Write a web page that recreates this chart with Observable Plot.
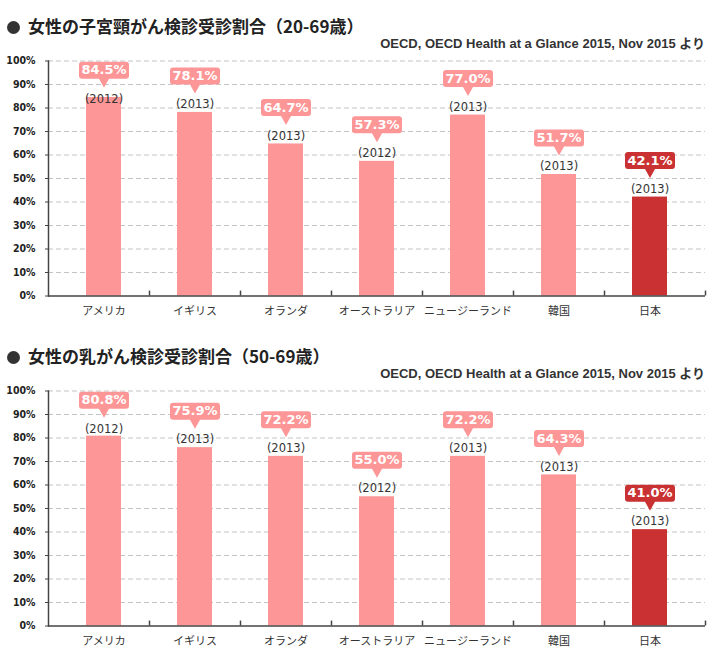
<!DOCTYPE html>
<html><head><meta charset="utf-8">
<script src="https://cdn.jsdelivr.net/npm/d3@7"></script>
<script src="https://cdn.jsdelivr.net/npm/@observablehq/plot@0.6"></script>
<style>
body{margin:0;background:#fff;font-family:"Noto Sans CJK JP",sans-serif;}
.block{position:relative;width:720px;height:330px;}
.title{position:absolute;left:7px;top:13px;font-size:17px;font-weight:bold;color:#222;line-height:26px;white-space:nowrap;}
.dot{display:inline-block;width:13px;height:13px;border-radius:50%;background:#333;margin-right:8px;vertical-align:-1px;}
.source{position:absolute;right:15px;top:34px;font-family:"Liberation Sans",Arial,sans-serif;font-size:13px;font-weight:bold;color:#333;line-height:17px;white-space:nowrap;}
.source .jp{font-family:"Noto Sans CJK JP",sans-serif;}
.chart{position:absolute;left:0;top:50px;}
</style></head>
<body>
<div id="root"></div>
<script>
const countries = ["アメリカ","イギリス","オランダ","オーストラリア","ニュージーランド","韓国","日本"];
const cervicalRates = [84.5, 78.1, 64.7, 57.3, 77.0, 51.7, 42.1];
const cervicalYears = [2012, 2013, 2013, 2012, 2013, 2013, 2013];
const breastRates = [80.8, 75.9, 72.2, 55.0, 72.2, 64.3, 41.0];
const breastYears = [2012, 2013, 2013, 2012, 2013, 2013, 2013];
const yTicks = [0, 10, 20, 30, 40, 50, 60, 70, 80, 90, 100];
const titles = ["女性の子宮頸がん検診受診割合（20-69歳）", "女性の乳がん検診受診割合（50-69歳）"];
const sourceText = "OECD, OECD Health at a Glance 2015, Nov 2015 ";
const sourceSuffix = "より";
const highlight = "日本";

const PINK = "#fd9697";
const RED = "#c93133";

const W = 720, H = 280, ML = 48, MR = 15, MT = 10.5, MB = 34.5, INSET = 10;
const bw = (W - ML - MR - 2 * INSET) / countries.length;

const callout = {
  draw(ctx) {
    const w = 25, top = -45, bot = -28, r = 3, tip = -19, hw = 5;
    ctx.moveTo(-w + r, top);
    ctx.lineTo(w - r, top);
    ctx.arcTo(w, top, w, top + r, r);
    ctx.lineTo(w, bot - r);
    ctx.arcTo(w, bot, w - r, bot, r);
    ctx.lineTo(hw, bot);
    ctx.lineTo(0, tip);
    ctx.lineTo(-hw, bot);
    ctx.lineTo(-w + r, bot);
    ctx.arcTo(-w, bot, -w, bot - r, r);
    ctx.lineTo(-w, top + r);
    ctx.arcTo(-w, top, -w + r, top, r);
    ctx.closePath();
  }
};

function makeChart(rates, years) {
  const data = countries.map((c, i) => ({
    country: c, value: rates[i], year: years[i], anchor: Math.min(rates[i], 80.5)
  }));
  const colorOf = d => d.country === highlight ? RED : PINK;
  return Plot.plot({
    width: W, height: H,
    marginTop: MT, marginBottom: MB, marginLeft: ML, marginRight: MR,
    x: {domain: countries, padding: 0, insetLeft: INSET, insetRight: INSET},
    y: {domain: [0, 100]},
    marks: [
      Plot.ruleY(yTicks.filter(t => t > 0), {stroke: "#c4c4c4", strokeDasharray: "5,3", strokeWidth: 1}),
      Plot.barY(data, {x: "country", y: "value", fill: colorOf, insetLeft: 28, insetRight: 28}),
      Plot.ruleY([0], {stroke: "#444", strokeWidth: 1.5}),
      Plot.frame({anchor: "left", stroke: "#444", strokeWidth: 1.5}),
      Plot.ruleX(countries.slice(0, -1), {x: d => d, dx: bw / 2, y1: 0, y2: 2.1, stroke: "#444", strokeWidth: 1.5}),
      Plot.ruleX(countries.slice(-1), {x: d => d, dx: bw / 2 + INSET, y1: 0, y2: 2.1, stroke: "#444", strokeWidth: 1.5}),
      Plot.axisY({ticks: yTicks, tickFormat: d => d + "%", tickSize: 3, tickPadding: 10, stroke: "#444",
        fontSize: 10.5, fontWeight: "bold", fontFamily: "DejaVu Sans Condensed", fill: "#222", label: null}),
      Plot.axisX({tickSize: 0, tickPadding: 11, fontSize: 11, fontFamily: "Noto Sans CJK JP", fill: "#333", label: null}),
      Plot.dot(data, {x: "country", y: "anchor", symbol: callout, r: 5, fill: colorOf, stroke: "none"}),
      Plot.text(data, {x: "country", y: "anchor", text: d => d.value.toFixed(1) + "%", dy: -36.5,
        fill: "white", fontWeight: "bold", fontSize: 13, fontFamily: "DejaVu Sans"}),
      Plot.text(data, {x: "country", y: "anchor", text: d => `(${d.year})`, dy: -8,
        fill: "#333", fontSize: 11.5, fontFamily: "DejaVu Sans"})
    ]
  });
}

const root = document.getElementById("root");
[[cervicalRates, cervicalYears], [breastRates, breastYears]].forEach(([r, y], i) => {
  const block = document.createElement("div");
  block.className = "block";
  const t = document.createElement("div");
  t.className = "title";
  t.innerHTML = `<span class="dot"></span>`;
  t.appendChild(document.createTextNode(titles[i]));
  const s = document.createElement("div");
  s.className = "source";
  s.appendChild(document.createTextNode(sourceText));
  const jp = document.createElement("span");
  jp.className = "jp";
  jp.textContent = sourceSuffix;
  s.appendChild(jp);
  const c = document.createElement("div");
  c.className = "chart";
  c.appendChild(makeChart(r, y));
  block.append(t, s, c);
  root.appendChild(block);
});
</script>
</body></html>
